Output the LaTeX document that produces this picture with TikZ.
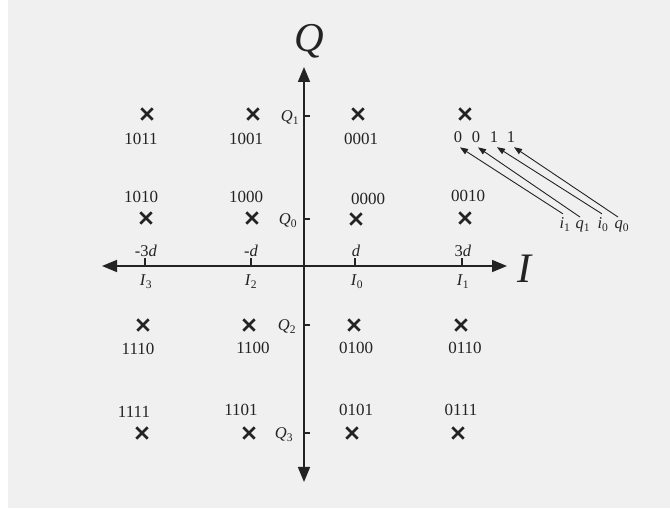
\documentclass[tikz,border=0pt]{standalone}
\usepackage{fontspec}
\setmainfont{Liberation Serif}
\usetikzlibrary{arrows.meta,shapes.misc}
\definecolor{bg}{RGB}{240,240,240}
\definecolor{ink}{RGB}{35,35,35}
\begin{document}
\begin{tikzpicture}[x=1pt,y=-1pt,
  lbl/.style={font=\fontsize{17}{19}\selectfont, text=ink, inner sep=0pt, anchor=base},
  tlbl/.style={font=\fontsize{16.5}{19}\selectfont, text=ink, inner sep=0pt, anchor=base},
  bitlbl/.style={font=\fontsize{16.5}{19}\selectfont, text=ink, inner xsep=0pt, inner ysep=4pt, anchor=base},
  axis/.style={draw=ink, line width=1.6pt, {Triangle[length=15pt,width=12pt]}-{Triangle[length=15pt,width=12pt]}},
  tick/.style={draw=ink, line width=1.2pt},
  pt/.style={cross out, draw=ink, line width=2.8pt, minimum size=8.5pt, inner sep=0pt},
  ptr/.style={draw=ink, line width=0.9pt, -{Triangle[length=8pt,width=6pt]}}]
\useasboundingbox (0,0) rectangle (670,510);
\fill[white] (0,0) rectangle (670,510);
\fill[bg] (8,0) rectangle (670,508);

% axes
\coordinate (L) at (102,266);
\coordinate (R) at (507,266);
\coordinate (T) at (304,67);
\coordinate (B) at (304,482);
\draw[axis] (L) -- (R);
\draw[axis] (T) -- (B);
\node[font=\fontsize{41}{41}\selectfont\itshape, text=ink, inner sep=0pt, anchor=base] (Qax) at (309,52) {Q};
\node[font=\fontsize{42}{42}\selectfont\itshape, text=ink, inner sep=0pt, anchor=base] (Iax) at (524,283) {I};

% I ticks
\foreach \x/\n in {145/3,251/2,355/0,462/1}{
  \coordinate (ti\n) at (\x,266);
  \draw[tick] (ti\n) -- ++(0,-8);
}
\node[tlbl] (dm3) at (146,257) {-3\textit{d}};
\node[tlbl] (dm1) at (251,257) {-\textit{d}};
\node[tlbl] (dp1) at (356,257) {\textit{d}};
\node[tlbl] (dp3) at (463,257) {3\textit{d}};
\node[tlbl] (I3) at (146,286) {\textit{I}\textsubscript{3}};
\node[tlbl] (I2) at (251,286) {\textit{I}\textsubscript{2}};
\node[tlbl] (I0) at (357,286) {\textit{I}\textsubscript{0}};
\node[tlbl] (I1) at (463,286) {\textit{I}\textsubscript{1}};

% Q ticks
\foreach \y/\n in {116/1,219/0,325/2,433/3}{
  \coordinate (tq\n) at (304,\y);
  \draw[tick] (tq\n) -- ++(6,0);
}
\node[tlbl] (Q1) at (290,122) {\textit{Q}\textsubscript{1}};
\node[tlbl] (Q0) at (288,225) {\textit{Q}\textsubscript{0}};
\node[tlbl] (Q2) at (287,331) {\textit{Q}\textsubscript{2}};
\node[tlbl] (Q3) at (284,439) {\textit{Q}\textsubscript{3}};

% constellation points
\node[pt] (p1011) at (147,114) {};
\node[pt] (p1001) at (253,114) {};
\node[pt] (p0001) at (358,114) {};
\node[pt] (p0011) at (465,114) {};
\node[pt] (p1010) at (146,218) {};
\node[pt] (p1000) at (252,218) {};
\node[pt] (p0000) at (356,219) {};
\node[pt] (p0010) at (465,218) {};
\node[pt] (p1110) at (143,325) {};
\node[pt] (p1100) at (249,325) {};
\node[pt] (p0100) at (354,325) {};
\node[pt] (p0110) at (461,325) {};
\node[pt] (p1111) at (142,433) {};
\node[pt] (p1101) at (249,433) {};
\node[pt] (p0101) at (352,433) {};
\node[pt] (p0111) at (458,433) {};

% labels
\node[lbl] (l1011) at (141,145) {1011};
\node[lbl] (l1001) at (246,145) {1001};
\node[lbl] (l0001) at (361,145) {0001};
\node[lbl] (l1010) at (141,203) {1010};
\node[lbl] (l1000) at (246,203) {1000};
\node[lbl] (l0000) at (368,205) {0000};
\node[lbl] (l0010) at (468,202) {0010};
\node[lbl] (l1110) at (138,355) {1110};
\node[lbl] (l1100) at (253,354) {1100};
\node[lbl] (l0100) at (356,354) {0100};
\node[lbl] (l0110) at (465,354) {0110};
\node[lbl] (l1111) at (134,418) {1111};
\node[lbl] (l1101) at (241,416) {1101};
\node[lbl] (l0101) at (356,416) {0101};
\node[lbl] (l0111) at (461,416) {0111};

% bit annotation
\node[bitlbl] (b1) at (458,143) {0};
\node[bitlbl] (b2) at (476,143) {0};
\node[bitlbl] (b3) at (494,143) {1};
\node[bitlbl] (b4) at (511,143) {1};
\node[bitlbl] (ni1) at (565,229) {\textit{i}\textsubscript{1}};
\node[bitlbl] (nq1) at (583,229) {\textit{q}\textsubscript{1}};
\node[bitlbl] (ni0) at (603,229) {\textit{i}\textsubscript{0}};
\node[bitlbl] (nq0) at (622,229) {\textit{q}\textsubscript{0}};
\draw[ptr] ([xshift=-2pt]ni1.north) -- ([xshift=2pt]b1.south);
\draw[ptr] ([xshift=-3pt]nq1.north) -- ([xshift=2pt]b2.south);
\draw[ptr] ([xshift=-1pt]ni0.north) -- ([xshift=3pt]b3.south);
\draw[ptr] ([xshift=-4pt]nq0.north) -- ([xshift=3pt]b4.south);
\end{tikzpicture}
\end{document}
